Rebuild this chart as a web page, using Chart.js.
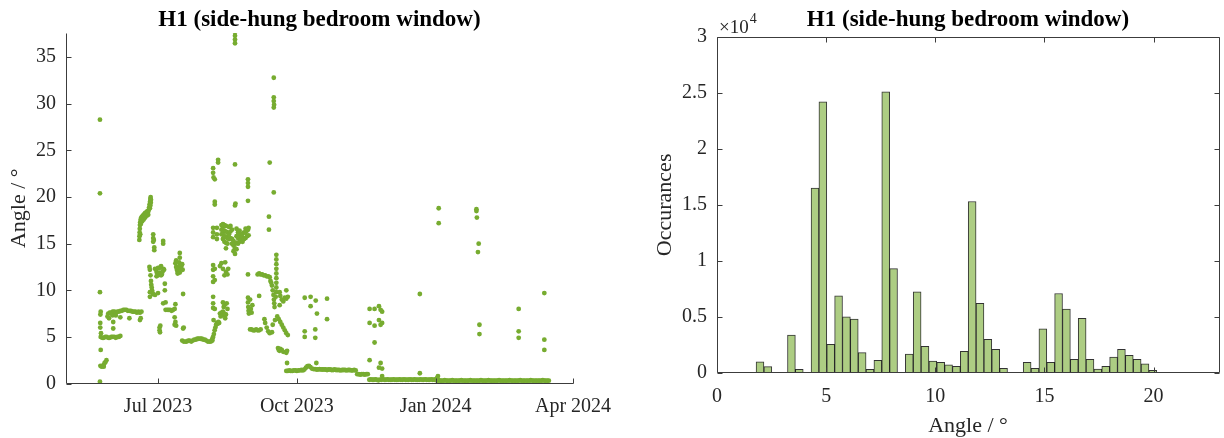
<!DOCTYPE html>
<html>
<head>
<meta charset="utf-8">
<title>H1 window opening angle</title>
<script src="https://cdn.jsdelivr.net/npm/chart.js@4.4.1/dist/chart.umd.min.js"></script>
<style>
  body { margin: 0; background: #fff; }
  #wrap { position: relative; width: 1224px; height: 438px; }
  canvas { position: absolute; top: 0; }
  #timeChart { left: 0; }
  #histChart { left: 612px; }
</style>
</head>
<body>
<div id="wrap">
  <canvas id="timeChart" width="612" height="438"></canvas>
  <canvas id="histChart" width="612" height="438"></canvas>
</div>
<script>
// ---- time series: x is days since 1 May 2023, y is opening angle in degrees ----
const dateTicks = [61, 153, 245, 336];
const dateLabels = ['Jul 2023', 'Oct 2023', 'Jan 2024', 'Apr 2024'];
const angleTicks = [0, 5, 10, 15, 20, 25, 30, 35];

// steady positions, one reading per day from the start day
const mayStart = 23;
const mayPlateau = [5.0, 4.9, 4.9, 5.0, 5.0, 4.9, 4.9, 5.0, 5.0, 5.0, 4.9, 5.0, 5.0, 5.1];
const juneStart = 28;
const junePlateau = [7.5, 7.6, 7.6, 7.7, 7.7, 7.6, 7.7, 7.7, 7.8, 7.8, 7.9, 7.9, 7.9, 7.8, 7.8, 7.8,
  7.7, 7.7, 7.7, 7.6, 7.7, 7.6, 7.7];
const augStart = 77;
const augPlateau = [4.6, 4.5, 4.5, 4.5, 4.6, 4.6, 4.5, 4.6, 4.7, 4.7, 4.8, 4.8, 4.8, 4.8, 4.7, 4.7,
  4.6, 4.5, 4.5, 4.5, 4.6];
const sepLowStart = 122;
const sepLow = [5.8, 5.8, 5.7, 5.7, 5.8, 5.7, 5.7, 5.8];
const sepHighStart = 127;
const sepHigh = [11.7, 11.8, 11.7, 11.7, 11.6, 11.6, 11.5, 11.5, 11.4];
const octStart = 146;
const octPlateau = [1.35, 1.35, 1.4, 1.35, 1.35, 1.4, 1.4, 1.35, 1.4, 1.4,
  1.45, 1.4, 1.5, 1.7, 1.85, 1.9, 1.75, 1.6, 1.55, 1.55,
  1.5, 1.5, 1.55, 1.5, 1.5, 1.5, 1.5, 1.45, 1.5, 1.5,
  1.45, 1.45, 1.5, 1.45, 1.45, 1.45, 1.4, 1.45, 1.45, 1.45,
  1.4, 1.45, 1.45, 1.4, 1.4, 1.45, 1.4];
const novStart = 193;
const novStep = [1.0, 1.0, 0.95, 1.0, 1.0, 0.95, 1.0, 1.0];
const decStart = 201;
const decBase = [0.4, 0.45, 0.4, 0.4, 0.45, 0.4, 0.35, 0.4, 0.4, 0.45,
  0.4, 0.4, 0.45, 0.4, 0.4, 0.4, 0.45, 0.4, 0.4, 0.4,
  0.45, 0.4, 0.4, 0.45, 0.4, 0.4, 0.4, 0.45, 0.4, 0.4,
  0.45, 0.4, 0.4, 0.4, 0.45, 0.4, 0.4, 0.45, 0.4, 0.4,
  0.4, 0.45, 0.4, 0.4, 0.45];
const janStart = 246;
const janBase = [0.3, 0.35, 0.3, 0.3, 0.3, 0.35, 0.3, 0.3, 0.3, 0.3,
  0.35, 0.3, 0.3, 0.3, 0.3, 0.3, 0.35, 0.3, 0.3, 0.3,
  0.3, 0.3, 0.35, 0.3, 0.3, 0.3, 0.3, 0.3, 0.3, 0.35,
  0.3, 0.3, 0.3, 0.3, 0.35, 0.3, 0.3, 0.3, 0.3, 0.3,
  0.3, 0.35, 0.3, 0.3, 0.3, 0.3, 0.3, 0.3, 0.35, 0.3,
  0.3, 0.3, 0.3, 0.3, 0.3, 0.35, 0.3, 0.3, 0.3, 0.3,
  0.3, 0.3, 0.35, 0.3, 0.3, 0.3, 0.3, 0.3, 0.3, 0.3,
  0.35, 0.3, 0.3, 0.3, 0.3];

// individual readings [day, angle]
const mayPoints = [
  [22.5, 28.3], [22.5, 20.4], [22.5, 9.8], [23, 7.7], [22.8, 7.4], [22.7, 6.5], [22.7, 6.0], [23.2, 5.4],
  [23, 3.6], [22.8, 1.9], [22.5, 0.2], [23.6, 1.8], [24.3, 1.9], [25, 2.0], [25.6, 2.2], [26.2, 2.3],
  [26.8, 2.5], [25, 1.8], [27.5, 7.2], [28.5, 7.0], [30.8, 7.3], [31.3, 6.6], [31.3, 5.9], [33, 7.3],
  [36, 7.1], [42, 7.0], [49, 6.8], [49.5, 7.0]
];
const juneRamp = [
  [48.6, 15.4], [48.7, 15.8], [48.8, 16.2], [48.9, 16.6], [49.0, 17.0], [49.2, 17.3], [49.5, 17.6],
  [49.9, 17.8], [50.4, 17.9], [51.0, 18.0], [51.5, 18.1], [52.0, 18.2], [52.5, 18.3], [53.0, 18.3],
  [53.5, 18.4], [54.0, 18.5], [54.4, 18.4], [54.8, 18.6], [55.1, 18.9], [55.4, 19.2], [55.7, 19.5],
  [55.9, 19.8], [56.1, 20.0], [55.6, 18.8], [55.9, 19.1], [56.2, 19.4], [56.3, 19.7], [49.2, 16.0],
  [49.6, 17.1], [50.5, 17.4], [51.5, 17.6], [52.5, 17.8], [53.5, 18.0], [54.5, 18.1]
];
const julyPoints = [
  [57.8, 16.0], [57.8, 15.6], [57.8, 15.2], [58.2, 15.4], [58.5, 14.6], [58.5, 14.3], [64.4, 15.0], [64.4, 15.3],
  [55.3, 12.5], [55.6, 12.2], [56, 11.6], [56.3, 11.0], [56.5, 10.6], [56.8, 10.3], [57, 10.0], [57.2, 9.8],
  [57.5, 9.6], [55.6, 9.3], [55.6, 9.8],
  [59, 12.3], [60, 12.0], [60.5, 11.8], [61, 11.6], [61.5, 11.7], [62, 11.9], [62.5, 11.8], [63, 11.6],
  [63.5, 11.7], [64, 12.0], [64.5, 12.3], [65, 12.2], [63, 12.6], [62, 12.4], [60, 11.5], [61, 12.4],
  [59, 9.5], [61, 9.7], [65.5, 10.7], [65.5, 10.0], [66, 8.7], [64.4, 8.6], [62, 6.0], [62, 5.7], [62.3, 5.5], [62.5, 6.2],
  [66, 7.9], [67, 7.9], [68, 7.9], [69, 7.9], [70, 7.8], [71, 7.9], [72, 8.0], [72.5, 8.5],
  [72, 6.3], [72, 7.1], [72.5, 6.6], [73, 6.2],
  [72.5, 12.9], [73, 12.5], [73.5, 12.2], [74, 12.0], [74.5, 12.5], [75, 13.0], [75.4, 13.5], [75.4, 14.0],
  [75.4, 12.7], [75.4, 11.9], [76, 12.3], [76.5, 12.6], [77, 12.8], [77.3, 12.2], [74, 11.8], [73, 13.2],
  [77.6, 9.6], [77.6, 5.9], [78, 6.0]
];
const augPoints = [
  [96.5, 4.6], [97, 4.8], [97.5, 5.0], [98, 5.3], [98.5, 5.7], [99, 6.0], [99.5, 6.3], [100, 6.5],
  [100.5, 6.4], [101, 6.6], [101.5, 6.5],
  [102, 7.5], [102.5, 7.2], [103, 7.6], [103.5, 7.3], [104, 7.7], [104.5, 8.2], [105, 7.5], [105.5, 7.0],
  [106, 7.4], [104, 8.7], [105, 8.4], [106.5, 8.6], [107, 8.0],
  [97.5, 23.1], [97.5, 22.6], [97.8, 22.1], [98.6, 21.9], [98.6, 19.5], [98.6, 19.2], [97.5, 16.7], [97.5, 16.2],
  [97.5, 15.7], [97.5, 12.7], [97.5, 12.2], [97.5, 11.5], [97.5, 10.9], [97.5, 9.3], [97.5, 8.6], [97.5, 8.1],
  [97.8, 6.8], [100.8, 24.0], [100.8, 23.7], [98.6, 12.3], [98.6, 11.1], [98.6, 8.0], [100, 16.7], [100, 16.0], [100, 15.5],
  [103, 16.0], [103, 16.5], [103, 17.0], [104, 15.5], [104, 16.2], [104, 16.8], [104, 17.1],
  [105, 15.2], [105, 15.8], [105, 16.4], [105, 17.0], [106, 14.5], [106, 15.1], [106, 15.7], [106, 16.3], [106, 16.9],
  [107, 15.0], [107, 15.6], [107, 16.2], [108, 15.5], [108, 16.0], [108, 16.8], [109, 15.6], [109, 16.3], [109, 16.9],
  [110, 15.0], [110, 15.5], [110, 16.5], [111, 14.2], [111, 14.8], [111, 15.3], [112, 13.9], [112, 14.5], [112, 15.0],
  [113, 14.4], [113, 15.1], [113, 15.8], [113, 16.6], [114, 15.0], [114, 15.6], [114, 16.2],
  [115, 15.2], [115, 15.8], [115, 16.4], [116, 15.4], [116, 16.0], [117, 15.2], [117, 15.7], [117, 16.1],
  [118, 15.5], [118, 16.2], [119, 15.6], [119, 16.2], [119, 16.6], [120, 15.8], [120, 16.4], [121, 15.9], [121, 16.7],
  [102, 12.6], [103, 12.9], [104, 12.3], [105, 11.6], [106, 12.0], [107, 11.7], [107.5, 12.3], [105.5, 13.0],
  [112, 37.7], [112, 37.3], [112, 36.9], [112, 36.5], [112, 23.5], [112.3, 19.3], [112, 19.1],
  [120.6, 21.9], [120.6, 21.5], [120.6, 21.1], [120.6, 19.6], [120.6, 16.5], [120.6, 11.7], [120.6, 9.2], [120.6, 8.7],
  [120.8, 8.2], [121, 7.8], [121.2, 7.5], [122, 9.0], [122.5, 8.0], [123, 7.6], [123.5, 8.4]
];
const sepPoints = [
  [128, 9.4],
  [135.5, 11.0], [136, 10.8], [136.5, 10.5], [137, 10.0], [137.5, 9.5], [137.8, 9.0], [138, 8.6], [138.2, 8.2],
  [139.4, 13.8], [139.4, 13.3], [139.4, 12.8], [139.4, 12.3], [139.4, 11.8], [139.4, 11.3], [139.4, 10.8],
  [139.4, 10.3], [139.4, 9.8], [139, 9.3],
  [134.5, 17.9], [134.5, 16.5], [135, 23.7], [137.7, 32.8], [137.7, 30.7], [137.7, 30.3], [137.9, 29.9],
  [137.7, 29.6], [137.7, 20.5],
  [131.5, 6.9], [132, 6.5], [133, 6.0], [134, 5.6], [135, 5.4], [136.5, 5.5], [137, 6.3], [138.5, 6.8],
  [140, 7.2], [141, 6.9], [142, 6.6], [143, 6.3], [144, 6.0], [145, 5.7], [146, 5.4], [147, 5.2],
  [141.6, 9.8], [142, 9.4], [143, 9.0], [144, 8.8], [145, 9.2], [146, 9.1], [147, 9.3], [146, 10.0], [141.6, 8.4],
  [140.5, 3.8], [141, 3.6], [141.5, 3.5], [142, 3.7], [143, 3.6], [144, 3.4], [146, 3.3], [146.5, 3.5], [146.5, 2.2],
  [158.2, 9.2], [158.2, 5.6], [158.2, 5.0], [162.1, 9.3], [162.1, 8.3], [165.5, 8.9], [166.3, 7.5],
  [165.2, 5.8], [165.2, 4.9], [165.9, 2.2], [173, 9.1], [173, 6.9]
];
const winterPoints = [
  [201.2, 8.0], [204.5, 8.0], [207.4, 8.3], [208.5, 7.9], [209.5, 7.7], [201.2, 6.5], [204.5, 6.2],
  [207.4, 6.8], [208.5, 6.3], [209.5, 6.5], [204.5, 4.4], [201.2, 2.5], [208.5, 2.2], [207.4, 1.7],
  [209.5, 1.6], [209.5, 0.8],
  [234.5, 9.6], [234.5, 1.1], [246, 0.6], [246.5, 0.8], [247, 18.8], [247, 17.2],
  [272, 18.7], [272, 18.5], [272.3, 17.8], [273.5, 15.0], [273, 14.1], [274, 6.3], [274, 5.3],
  [300, 8.0], [300, 5.6], [300, 4.9], [317, 9.7], [317, 4.7], [317, 3.6]
];

// ---- histogram of angles ----
const binStart = 1.79;
const binWidth = 0.36;
const binCounts = [980, 540, 30, 10, 3360, 300, 20, 16500, 24200, 2530,
  6880, 5000, 4790, 1790, 300, 1100, 25100, 9300, 0, 1670,
  7230, 2350, 1040, 920, 710, 570, 1900, 15300, 6200, 2980,
  2080, 390, 0, 0, 920, 390, 3930, 920, 7080, 5680,
  1190, 4850, 1190, 330, 570, 1400, 2080, 1550, 1190, 800,
  210, 40, 30, 20, 20, 20, 20, 10];
const histAngleTicks = [0, 5, 10, 15, 20];
const countTicks = [0, 5000, 10000, 15000, 20000, 25000, 30000];
const countLabels = ['0', '0.5', '1', '1.5', '2', '2.5', '3'];

const green = '#77AC30';
const textColor = '#262626';
const serif = '"Liberation Serif", "Times New Roman", serif';

function fromRun(start, values) {
  return values.map((v, i) => ({x: start + i, y: v}));
}
function fromPairs(pairs) {
  return pairs.map(p => ({x: p[0], y: p[1]}));
}

const timeData = [].concat(
  fromRun(mayStart, mayPlateau), fromRun(juneStart, junePlateau), fromRun(augStart, augPlateau),
  fromRun(sepLowStart, sepLow), fromRun(sepHighStart, sepHigh), fromRun(octStart, octPlateau),
  fromRun(novStart, novStep), fromRun(decStart, decBase), fromRun(janStart, janBase),
  fromPairs(mayPoints), fromPairs(juneRamp), fromPairs(julyPoints), fromPairs(augPoints),
  fromPairs(sepPoints), fromPairs(winterPoints)
);

const histData = binCounts.map((c, i) => ({x: binStart + (i + 0.5) * binWidth, y: c}));

// keep the plot box where the layout padding puts it: edge labels may overflow
function noLabelPadding(s) {
  s.paddingLeft = 0; s.paddingRight = 0; s.paddingTop = 0; s.paddingBottom = 0;
}

// axes lines, inward tick marks, titles and axis labels (matlab look)
const decor = {
  id: 'decor',
  afterDraw(chart, args, opts) {
    const ctx = chart.ctx;
    const a = chart.chartArea;
    const xs = chart.scales.x, ys = chart.scales.y;
    const L = Math.round(a.left) + 0.5, R = Math.round(a.right) + 0.5;
    const T = Math.round(a.top) + 0.5, B = Math.round(a.bottom) - 0.5;
    const tl = 5;
    ctx.save();
    ctx.strokeStyle = '#3c3c3c';
    ctx.lineWidth = 1;
    ctx.beginPath();
    ctx.moveTo(L, T); ctx.lineTo(L, B); ctx.lineTo(R, B);
    if (opts.box) { ctx.lineTo(R, T); ctx.lineTo(L, T); }
    xs.ticks.forEach(t => {
      const px = Math.round(xs.getPixelForValue(t.value)) + 0.5;
      ctx.moveTo(px, B); ctx.lineTo(px, B - tl);
      if (opts.box) { ctx.moveTo(px, T); ctx.lineTo(px, T + tl); }
    });
    ys.ticks.forEach(t => {
      const py = Math.round(ys.getPixelForValue(t.value)) + 0.5;
      ctx.moveTo(L, py); ctx.lineTo(L + tl, py);
      if (opts.box) { ctx.moveTo(R, py); ctx.lineTo(R - tl, py); }
    });
    ctx.stroke();

    ctx.fillStyle = '#000';
    ctx.font = 'bold 23px ' + serif;
    ctx.textAlign = 'center';
    ctx.textBaseline = 'alphabetic';
    ctx.fillText(opts.title, (a.left + a.right) / 2, 26);

    ctx.fillStyle = textColor;
    ctx.font = '22px ' + serif;
    ctx.textBaseline = 'middle';
    if (opts.xLabel) ctx.fillText(opts.xLabel, (a.left + a.right) / 2, opts.xLabelY);
    if (opts.exponent) {
      ctx.textAlign = 'left';
      ctx.textBaseline = 'alphabetic';
      ctx.font = '19px ' + serif;
      ctx.fillText('\u00d710', a.left + 2, 33);
      const w = ctx.measureText('\u00d710').width;
      ctx.font = '14px ' + serif;
      ctx.fillText(opts.exponent, a.left + 3 + w, 23);
    }
    ctx.font = '22px ' + serif;
    ctx.textAlign = 'center';
    ctx.textBaseline = 'middle';
    ctx.translate(opts.yLabelX, (a.top + a.bottom) / 2);
    ctx.rotate(-Math.PI / 2);
    ctx.fillText(opts.yLabel, 0, 0);
    ctx.restore();
  }
};

const tickFont = {family: serif, size: 20};

new Chart(document.getElementById('timeChart'), {
  type: 'scatter',
  data: {
    datasets: [{
      data: timeData,
      pointRadius: 2.4,
      pointHoverRadius: 0,
      pointBorderWidth: 0,
      backgroundColor: green,
      borderColor: green
    }]
  },
  options: {
    responsive: false,
    animation: false,
    events: [],
    layout: {padding: {top: 33, right: 39, left: 0, bottom: 0}},
    plugins: {
      legend: {display: false},
      tooltip: {enabled: false},
      decor: {title: 'H1 (side-hung bedroom window)', yLabel: 'Angle / \u00b0', yLabelX: 19, box: false}
    },
    scales: {
      x: {
        type: 'linear', min: 0, max: 336,
        grid: {display: false, drawTicks: false},
        border: {display: false},
        afterFit: s => { s.height = 54.5; noLabelPadding(s); },
        afterBuildTicks: s => { s.ticks = dateTicks.map(v => ({value: v})); },
        ticks: {
          autoSkip: false, maxRotation: 0, padding: 11, color: textColor, font: tickFont,
          callback: (v, i) => dateLabels[i]
        }
      },
      y: {
        type: 'linear', min: 0, max: 37.6,
        grid: {display: false, drawTicks: false},
        border: {display: false},
        afterFit: s => { s.width = 66; noLabelPadding(s); },
        afterBuildTicks: s => { s.ticks = angleTicks.map(v => ({value: v})); },
        ticks: {padding: 10, color: textColor, font: tickFont}
      }
    }
  },
  plugins: [decor]
});

new Chart(document.getElementById('histChart'), {
  type: 'bar',
  data: {
    datasets: [{
      data: histData,
      backgroundColor: 'rgb(173,205,131)',
      borderColor: 'rgba(0,0,0,0.8)',
      borderWidth: 1,
      barPercentage: 1,
      categoryPercentage: 1
    }]
  },
  options: {
    responsive: false,
    animation: false,
    events: [],
    layout: {padding: {top: 37, right: 5, left: 0, bottom: 0}},
    plugins: {
      legend: {display: false},
      tooltip: {enabled: false},
      decor: {
        title: 'H1 (side-hung bedroom window)', yLabel: 'Occurances', yLabelX: 53,
        xLabel: 'Angle / \u00b0', xLabelY: 426, box: true, exponent: '4'
      }
    },
    scales: {
      x: {
        type: 'linear', min: 0, max: 23, offset: false,
        grid: {display: false, drawTicks: false, offset: false},
        border: {display: false},
        afterFit: s => { s.height = 65.3; noLabelPadding(s); },
        afterBuildTicks: s => { s.ticks = histAngleTicks.map(v => ({value: v})); },
        ticks: {autoSkip: false, maxRotation: 0, padding: 12, color: textColor, font: tickFont}
      },
      y: {
        type: 'linear', min: 0, max: 30000,
        grid: {display: false, drawTicks: false},
        border: {display: false},
        afterFit: s => { s.width = 105; noLabelPadding(s); },
        afterBuildTicks: s => { s.ticks = countTicks.map(v => ({value: v})); },
        ticks: {padding: 10, color: textColor, font: tickFont, callback: (v, i) => countLabels[i]}
      }
    }
  },
  plugins: [decor]
});
</script>
</body>
</html>
